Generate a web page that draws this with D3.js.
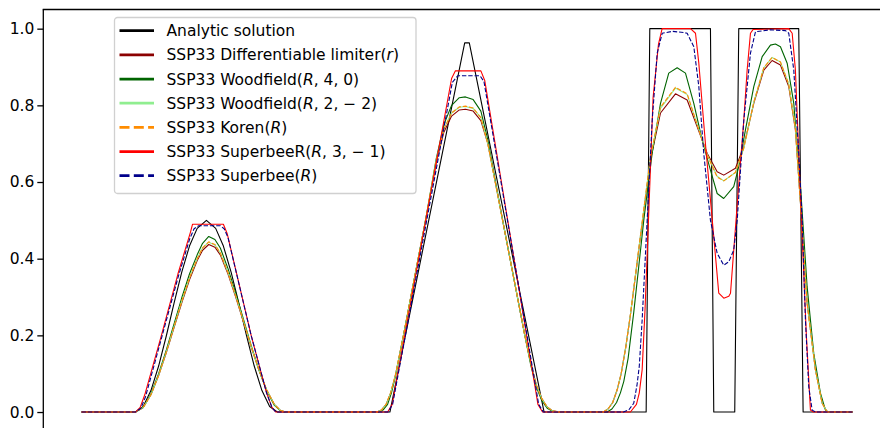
<!DOCTYPE html>
<html>
<head>
<meta charset="utf-8">
<script src="https://cdn.jsdelivr.net/npm/d3@7"></script>
<style>
  html, body { margin: 0; padding: 0; background: #fff; }
  svg { display: block; font-family: "DejaVu Sans", sans-serif; }
</style>
</head>
<body>
<svg id="chart" width="880" height="428"></svg>
<script>
// x in [0, 1]
const analytic = [[0,0],[0.070,0],[0.080,0.0145],[0.090,0.056],[0.100,0.120],[0.110,0.199],[0.120,0.284],[0.130,0.365],[0.140,0.433],[0.150,0.479],[0.162,0.5],[0.174,0.479],[0.184,0.433],[0.194,0.365],[0.204,0.284],[0.214,0.199],[0.224,0.120],[0.234,0.056],[0.244,0.0145],[0.254,0],
  [0.400,0],[0.497,0.963],[0.503,0.963],[0.600,0],
  [0.7324,0],[0.7371,1],[0.8158,1],[0.8201,0],[0.8473,0],[0.8525,1],[0.9303,1],[0.936,0],[1,0]];

const diffLimiter = [[0,0],[0.070,0],[0.080,0.012],[0.090,0.045],[0.100,0.095],[0.110,0.155],[0.120,0.22],[0.130,0.285],[0.140,0.345],[0.150,0.395],[0.157,0.422],[0.165,0.437],[0.173,0.43],[0.180,0.41],[0.190,0.36],[0.200,0.30],[0.210,0.235],[0.220,0.17],[0.230,0.11],[0.240,0.058],[0.250,0.02],[0.258,0.004],[0.265,0],
  [0.383,0],[0.389,0.005],[0.395,0.02],[0.401,0.05],[0.407,0.095],[0.4176,0.2],[0.4462,0.5],[0.460,0.65],[0.470,0.73],[0.480,0.772],[0.490,0.788],[0.498,0.79],[0.508,0.785],[0.518,0.76],[0.527,0.70],[0.5486,0.475],[0.575,0.2],[0.583,0.125],[0.590,0.07],[0.597,0.035],[0.604,0.013],[0.611,0.003],[0.620,0],
  [0.677,0],[0.683,0.008],[0.689,0.025],[0.6948,0.058],[0.700,0.1],[0.706,0.17],[0.7121,0.255],[0.7185,0.355],[0.725,0.457],[0.738,0.657],[0.751,0.78],[0.7704,0.83],[0.7856,0.814],[0.7986,0.744],[0.8115,0.675],[0.8245,0.627],[0.8331,0.618],[0.8482,0.636],[0.859,0.692],[0.872,0.805],[0.885,0.892],[0.8958,0.917],[0.9066,0.905],[0.9174,0.849],[0.926,0.736],[0.9326,0.544],[0.9412,0.284],[0.952,0.11],[0.9607,0.023],[0.9672,0],[1,0]];

const woodfield40 = [[0,0],[0.070,0],[0.080,0.012],[0.090,0.047],[0.100,0.10],[0.110,0.162],[0.120,0.23],[0.130,0.298],[0.140,0.36],[0.150,0.41],[0.157,0.44],[0.165,0.458],[0.173,0.45],[0.180,0.428],[0.190,0.374],[0.200,0.31],[0.210,0.242],[0.220,0.174],[0.230,0.11],[0.240,0.056],[0.250,0.018],[0.258,0.003],[0.264,0],
  [0.385,0],[0.391,0.005],[0.397,0.02],[0.402,0.05],[0.408,0.1],[0.4176,0.2],[0.4462,0.5],[0.460,0.66],[0.470,0.75],[0.480,0.8],[0.490,0.82],[0.498,0.822],[0.508,0.815],[0.518,0.785],[0.527,0.71],[0.5486,0.475],[0.575,0.2],[0.583,0.12],[0.590,0.065],[0.597,0.03],[0.604,0.01],[0.611,0.002],[0.618,0],
  [0.6818,0],[0.688,0.008],[0.694,0.025],[0.699,0.05],[0.7034,0.08],[0.709,0.14],[0.7163,0.26],[0.7228,0.38],[0.7293,0.5],[0.7402,0.675],[0.751,0.805],[0.7617,0.884],[0.7726,0.898],[0.7834,0.884],[0.7942,0.805],[0.805,0.71],[0.8158,0.631],[0.8245,0.57],[0.833,0.557],[0.846,0.588],[0.8525,0.64],[0.8612,0.736],[0.872,0.849],[0.8829,0.927],[0.8936,0.957],[0.9001,0.96],[0.9066,0.953],[0.9153,0.91],[0.9239,0.805],[0.9326,0.588],[0.9412,0.327],[0.9498,0.153],[0.9585,0.049],[0.965,0.005],[0.9689,0],[1,0]];

const woodfield22 = [[0,0],[0.070,0],[0.080,0.012],[0.090,0.045],[0.100,0.096],[0.110,0.157],[0.120,0.223],[0.130,0.289],[0.140,0.35],[0.150,0.40],[0.157,0.428],[0.165,0.443],[0.173,0.436],[0.180,0.415],[0.190,0.364],[0.200,0.303],[0.210,0.237],[0.220,0.171],[0.230,0.11],[0.240,0.058],[0.250,0.02],[0.258,0.004],[0.265,0],
  [0.383,0],[0.389,0.005],[0.395,0.02],[0.401,0.05],[0.407,0.095],[0.4176,0.2],[0.4462,0.5],[0.460,0.655],[0.470,0.738],[0.480,0.78],[0.490,0.795],[0.498,0.797],[0.508,0.792],[0.518,0.768],[0.527,0.70],[0.5486,0.475],[0.575,0.2],[0.583,0.125],[0.590,0.07],[0.597,0.035],[0.604,0.013],[0.611,0.003],[0.620,0],
  [0.677,0],[0.683,0.008],[0.689,0.025],[0.6948,0.058],[0.700,0.1],[0.706,0.17],[0.7121,0.256],[0.7185,0.357],[0.725,0.46],[0.738,0.665],[0.751,0.792],[0.7704,0.845],[0.7856,0.828],[0.7986,0.75],[0.8115,0.672],[0.8245,0.615],[0.8331,0.603],[0.8482,0.625],[0.859,0.688],[0.872,0.808],[0.885,0.898],[0.8958,0.925],[0.9066,0.913],[0.9174,0.855],[0.926,0.74],[0.9326,0.544],[0.9412,0.284],[0.952,0.11],[0.9607,0.023],[0.9672,0],[1,0]];

const koren = [[0,0],[0.070,0],[0.080,0.012],[0.090,0.045],[0.100,0.096],[0.110,0.157],[0.120,0.223],[0.130,0.289],[0.140,0.35],[0.150,0.40],[0.157,0.428],[0.165,0.444],[0.173,0.437],[0.180,0.415],[0.190,0.364],[0.200,0.303],[0.210,0.237],[0.220,0.171],[0.230,0.11],[0.240,0.058],[0.250,0.02],[0.258,0.004],[0.265,0],
  [0.383,0],[0.389,0.005],[0.395,0.02],[0.401,0.05],[0.407,0.095],[0.4176,0.2],[0.4462,0.5],[0.460,0.655],[0.470,0.738],[0.480,0.78],[0.490,0.796],[0.498,0.798],[0.508,0.793],[0.518,0.768],[0.527,0.70],[0.5486,0.475],[0.575,0.2],[0.583,0.125],[0.590,0.07],[0.597,0.035],[0.604,0.013],[0.611,0.003],[0.620,0],
  [0.677,0],[0.683,0.008],[0.689,0.025],[0.6948,0.058],[0.700,0.1],[0.706,0.17],[0.7121,0.256],[0.7185,0.357],[0.725,0.46],[0.738,0.665],[0.751,0.795],[0.7704,0.847],[0.7856,0.83],[0.7986,0.75],[0.8115,0.67],[0.8245,0.613],[0.8331,0.603],[0.8482,0.625],[0.859,0.688],[0.872,0.808],[0.885,0.898],[0.8958,0.925],[0.9066,0.913],[0.9174,0.855],[0.926,0.74],[0.9326,0.544],[0.9412,0.284],[0.952,0.11],[0.9607,0.023],[0.9672,0],[1,0]];

const superbeeR = [[0,0],[0.070,0],[0.076,0.012],[0.082,0.045],[0.1036,0.2],[0.125,0.36],[0.1414,0.47],[0.144,0.49],[0.184,0.49],[0.189,0.465],[0.220,0.2],[0.240,0.05],[0.247,0.012],[0.252,0],
  [0.397,0],[0.403,0.02],[0.480,0.87],[0.485,0.89],[0.518,0.89],[0.523,0.865],[0.592,0.02],[0.598,0],
  [0.712,0],[0.7198,0.02],[0.7235,0.05],[0.7272,0.11],[0.731,0.27],[0.7354,0.5],[0.7414,0.82],[0.7484,0.96],[0.7531,1.0],[0.7899,1.0],[0.7964,0.988],[0.8007,0.91],[0.8093,0.70],[0.8201,0.457],[0.8266,0.31],[0.8331,0.297],[0.8396,0.302],[0.8418,0.31],[0.8482,0.48],[0.8547,0.65],[0.859,0.76],[0.8634,0.892],[0.8677,0.988],[0.8712,0.998],[0.9174,1.0],[0.9218,0.988],[0.926,0.892],[0.9303,0.675],[0.9348,0.457],[0.9403,0.196],[0.9455,0.005],[0.9494,0],[1,0]];

const superbee = [[0,0],[0.070,0],[0.077,0.01],[0.083,0.04],[0.104,0.195],[0.125,0.35],[0.140,0.45],[0.146,0.478],[0.152,0.486],[0.180,0.486],[0.185,0.478],[0.190,0.455],[0.220,0.2],[0.240,0.05],[0.247,0.012],[0.252,0],
  [0.3975,0],[0.4035,0.02],[0.481,0.86],[0.488,0.877],[0.517,0.877],[0.522,0.862],[0.593,0.02],[0.599,0],
  [0.703,0],[0.710,0.006],[0.7163,0.023],[0.7205,0.07],[0.7235,0.12],[0.7272,0.24],[0.7337,0.5],[0.7402,0.76],[0.7467,0.936],[0.7532,0.988],[0.7665,0.993],[0.781,0.99],[0.7856,0.988],[0.7942,0.953],[0.8007,0.849],[0.8071,0.675],[0.8158,0.5],[0.8245,0.414],[0.8331,0.383],[0.8396,0.392],[0.846,0.4226],[0.8505,0.5],[0.859,0.76],[0.8677,0.936],[0.8742,0.992],[0.8936,0.997],[0.9131,0.995],[0.9174,0.988],[0.9239,0.892],[0.9303,0.675],[0.9348,0.5],[0.939,0.24],[0.9433,0.066],[0.9477,0.005],[0.952,0],[1,0]];

const seriesNames = ["Analytic solution", "SSP33 Differentiable limiter(r)", "SSP33 Woodfield(R, 4, 0)",
  "SSP33 Woodfield(R, 2, \u2212 2)", "SSP33 Koren(R)", "SSP33 SuperbeeR(R, 3, \u2212 1)", "SSP33 Superbee(R)"];
const yTicks = [0, 0.2, 0.4, 0.6, 0.8, 1.0];

const series = [
  { name: seriesNames[0], data: analytic, color: "#000000", dash: null },
  { name: seriesNames[1], data: diffLimiter, color: "#8b0000", dash: null },
  { name: seriesNames[2], data: woodfield40, color: "#006400", dash: null },
  { name: seriesNames[3], data: woodfield22, color: "#90ee90", dash: null },
  { name: seriesNames[4], data: koren, color: "#ff8c00", dash: "4.4,1.9" },
  { name: seriesNames[5], data: superbeeR, color: "#ff0000", dash: null },
  { name: seriesNames[6], data: superbee, color: "#00008b", dash: "4.4,1.9" }
];

const svg = d3.select("#chart");
const x = d3.scaleLinear().domain([-0.05, 1.05]).range([43, 891]);
const y = d3.scaleLinear().domain([-0.05, 1.05]).range([431.2, 9.5]);

const line = d3.line().x(d => x(d[0])).y(d => y(d[1]));

svg.selectAll("path.series")
  .data(series)
  .enter().append("path")
  .attr("class", "series")
  .attr("d", d => line(d.data))
  .attr("fill", "none")
  .attr("stroke", d => d.color)
  .attr("stroke-width", 1.1)
  .attr("stroke-dasharray", d => d.dash)
  .attr("stroke-linejoin", "round");

// spines
svg.append("line").attr("x1", 43.3).attr("x2", 43.3).attr("y1", 9.5).attr("y2", 432)
  .attr("stroke", "#000").attr("stroke-width", 1.3);
svg.append("line").attr("x1", 42.7).attr("x2", 891).attr("y1", 9.5).attr("y2", 9.5)
  .attr("stroke", "#000").attr("stroke-width", 1.3);

// y axis
const yAxis = d3.axisLeft(y).tickValues(yTicks).tickFormat(d3.format(".1f")).tickSize(6).tickPadding(3);
const ga = svg.append("g").attr("transform", "translate(43.3,0)").call(yAxis);
ga.select(".domain").remove();
ga.selectAll(".tick line").attr("stroke-width", 1.3);
ga.selectAll(".tick text").attr("font-size", 15.5).attr("font-family", "DejaVu Sans").attr("fill", "#000");

// legend
const lg = svg.append("g").attr("transform", "translate(114.5,17.5)");
lg.append("rect").attr("width", 301.5).attr("height", 176).attr("rx", 3)
  .attr("fill", "#fff").attr("fill-opacity", 0.8).attr("stroke", "#d0d0d0").attr("stroke-width", 1.3);
const rowY = d3.scaleLinear().domain([0, 6]).range([13.2, 158.2]);
series.forEach((s, i) => {
  const g = lg.append("g").attr("transform", `translate(0,${rowY(i)})`);
  g.append("line").attr("x1", 5).attr("x2", 39.5).attr("y1", 0).attr("y2", 0)
    .attr("stroke", s.color).attr("stroke-width", 2.8)
    .attr("stroke-dasharray", s.dash ? "10,4.3" : null);
  const t = g.append("text").attr("x", 52).attr("y", 5.5).attr("font-size", 15.5).attr("fill", "#000");
  const m = s.name.match(/^(.*\()([rR])(.*)$/);
  if (m) {
    t.append("tspan").text(m[1]);
    t.append("tspan").attr("font-style", "italic").text(m[2]);
    t.append("tspan").text(m[3]);
  } else {
    t.text(s.name);
  }
});
</script>
</body>
</html>
